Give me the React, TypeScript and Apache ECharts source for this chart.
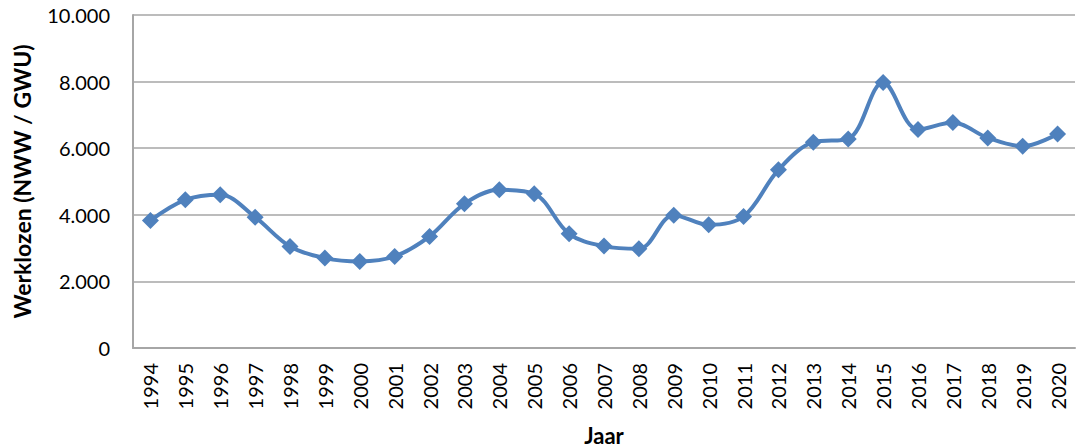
import React, { useEffect, useRef } from "react";
import * as echarts from "echarts";

const years = [
  "1994", "1995", "1996", "1997", "1998", "1999", "2000", "2001", "2002",
  "2003", "2004", "2005", "2006", "2007", "2008", "2009", "2010", "2011",
  "2012", "2013", "2014", "2015", "2016", "2017", "2018", "2019", "2020",
];
const werklozen = [
  3830, 4450, 4600, 3930, 3050, 2700, 2600, 2750, 3350,
  4330, 4750, 4630, 3430, 3060, 2980, 3990, 3700, 3950,
  5350, 6180, 6280, 7970, 6560, 6770, 6310, 6060, 6430,
];
const yTicks = { min: 0, max: 10000, interval: 2000 };

const fmt = (v: number) =>
  String(v).replace(/\B(?=(\d{3})+(?!\d))/g, ".");

export default function App() {
  const ref = useRef<HTMLDivElement>(null);
  useEffect(() => {
    if (!ref.current) return;
    const chart = echarts.init(ref.current, null, { renderer: "svg" });
    const font = "Lato, 'Open Sans', sans-serif";
    chart.setOption({
      animation: false,
      backgroundColor: "#ffffff",
      grid: { left: 133, right: 1, top: 15, bottom: 100, outerBoundsMode: "none", containLabel: false },
      xAxis: {
        type: "category",
        data: years,
        boundaryGap: true,
        name: "Jaar",
        nameLocation: "middle",
        nameGap: 76,
        nameTextStyle: { fontFamily: font, fontWeight: "bold", fontSize: 22, color: "#000" },
        axisLine: { lineStyle: { color: "#A6A6A6", width: 2 } },
        axisTick: { alignWithLabel: true, length: 6, lineStyle: { color: "#A6A6A6", width: 1.5 } },
        axisLabel: { rotate: 90, fontFamily: font, fontSize: 20, color: "#000", margin: 15 },
        splitLine: { show: false },
      },
      yAxis: {
        type: "value",
        min: yTicks.min,
        max: yTicks.max,
        interval: yTicks.interval,
        name: "Werklozen (NWW / GWU)",
        nameLocation: "middle",
        nameGap: 100,
        nameTextStyle: { fontFamily: font, fontWeight: "bold", fontSize: 23, color: "#000" },
        axisLine: { show: true, lineStyle: { color: "#A6A6A6", width: 2 } },
        axisTick: { show: false },
        axisLabel: { fontFamily: font, fontSize: 20, color: "#000", margin: 23, formatter: (v: number) => fmt(v) },
        splitLine: { lineStyle: { color: "#A6A6A6", width: 1.5 } },
      },
      series: [
        {
          type: "line",
          data: werklozen,
          smooth: 0.35,
          symbol: "diamond",
          symbolSize: 17,
          lineStyle: { color: "#4F81BD", width: 4 },
          itemStyle: { color: "#4F81BD" },
        },
      ],
    });
    return () => chart.dispose();
  }, []);
  return (
    <div
      ref={ref}
      style={{ position: "fixed", left: 0, top: 0, width: 1076, height: 448 }}
    />
  );
}
